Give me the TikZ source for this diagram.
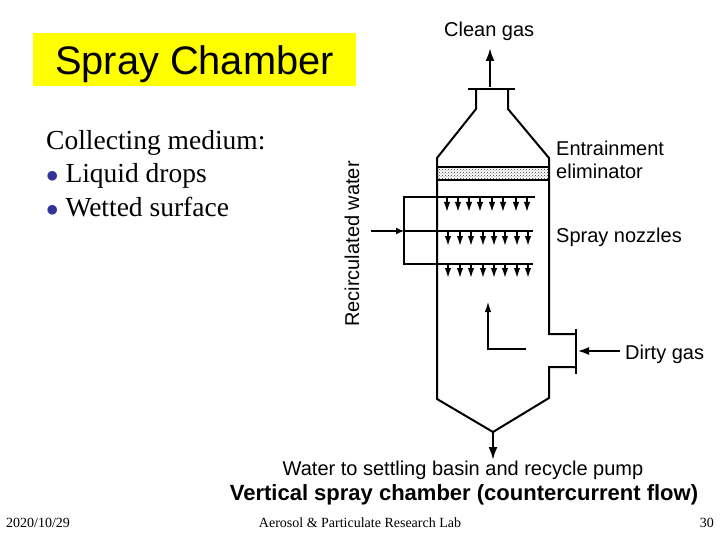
\documentclass[tikz,border=0pt]{standalone}
\usepackage{fontspec}
\setmainfont{Liberation Serif}
\newfontfamily\arialfont{Liberation Sans}
\usepackage{tikz}
\usetikzlibrary{arrows.meta,patterns}
\definecolor{titleyellow}{RGB}{255,255,0}
\definecolor{bulletblue}{RGB}{51,51,153}

\begin{document}
\begin{tikzpicture}[
  x=1pt, y=-1pt,
  wall/.style={line width=2pt, line join=miter},
  pipe/.style={line width=2pt},
  flow/.style={line width=2.2pt, -{Latex[length=13pt,width=9pt]}},
  nozzle/.style={line width=1.6pt, -{Latex[length=10pt,width=6.5pt]}},
  label/.style={font=\arialfont\fontsize{20}{24}\selectfont, inner sep=0pt, anchor=base west, align=left},
  body/.style={font=\fontsize{27.5}{33}\selectfont, inner sep=0pt, anchor=base west},
  foot/.style={font=\fontsize{14}{17}\selectfont, inner sep=0pt, anchor=base}
]
\useasboundingbox (0,0) rectangle (720,540);
\fill[white] (0,0) rectangle (720,540);

% title and left text
\node[fill=titleyellow, minimum width=323pt, minimum height=53pt, inner sep=0pt] (title) at (194.5,59.5) {};
\node[font=\arialfont\fontsize{39.8}{45}\selectfont, inner sep=0pt] at (194.5,64) {Spray Chamber};
\node[body] (collect) at (46,150) {Collecting medium:};
\node[body] (drops) at (46,183) {\textcolor{bulletblue}{$\bullet$} Liquid drops};
\node[body] (wetted) at (46,216) {\textcolor{bulletblue}{$\bullet$} Wetted surface};

% chamber outline
\coordinate (flangeL) at (468,89);
\coordinate (flangeR) at (515,89);
\draw[wall] (476,89) -- (476,109) -- (437,158) -- (437,399) -- (493,432) -- (549,398) -- (549,367) -- (575,367);
\draw[wall] (508,89) -- (508,109) -- (549,158) -- (549,334) -- (575,334);
\draw[wall] (flangeL) -- (flangeR);
\draw[line width=1.5pt] (576,329) -- (576,374);

% entrainment eliminator
\draw[pipe, pattern=crosshatch dots, pattern color=black!80] (437,167) rectangle (549,180);

% spray headers
\coordinate (hdrT) at (404,197);
\coordinate (hdrM) at (404,231);
\coordinate (hdrB) at (404,264);
\coordinate (waterIn) at (371,231);
\draw[pipe] (535,197) -- (hdrT) -- (hdrB) -- (533,264);
\draw[pipe] (hdrM) -- (533,231);
\draw[line width=1.2pt, -{Latex[length=8pt,width=7pt]}] (waterIn) -- (hdrM);
\foreach \x in {447,458,469,480,492,503,516,527}
  \draw[nozzle] (\x,197) -- (\x,212);
\foreach \x in {448,460,471,483,494,505,517,528} {
  \draw[nozzle] (\x,231) -- (\x,246);
  \draw[nozzle] (\x,264) -- (\x,278);
}

% gas and water flow
\coordinate (cleanS) at (490,87);
\coordinate (cleanE) at (490,48);
\coordinate (gasA) at (526,349);
\coordinate (gasB) at (488,349);
\coordinate (gasC) at (488,302);
\coordinate (dirtyS) at (620,351);
\coordinate (dirtyE) at (578,351);
\coordinate (drainS) at (493,432);
\coordinate (drainE) at (493,460);
\draw[flow] (cleanS) -- (cleanE);
\draw[line width=1.2pt, -{Latex[length=10pt,width=6.5pt]}] (gasA) -- (gasB) -- (gasC);
\draw[line width=1.5pt, -{Latex[length=11pt,width=8pt]}] (dirtyS) -- (dirtyE);
\draw[flow] (drainS) -- (drainE);

% labels
\node[label] (clean) at (444,37) {Clean gas};
\node[label] (entrain) at (556,156) {Entrainment};
\node[label] (elim) at (556,179) {eliminator};
\node[label] (spray) at (556,242) {Spray nozzles};
\node[label] (dirty) at (625,359) {Dirty gas};
\node[label, rotate=90] (recirc) at (359,327) {Recirculated water};
\node[font=\arialfont\fontsize{20}{24}\selectfont, inner sep=0pt, anchor=base] (basin) at (463,475) {Water to settling basin and recycle pump};
\node[font=\arialfont\bfseries\fontsize{22}{26}\selectfont, inner sep=0pt, anchor=base] (caption) at (464,500) {Vertical spray chamber (countercurrent flow)};

% footer
\node[foot, anchor=base west] (date) at (6,527) {2020/10/29};
\node[foot] (lab) at (360,527) {Aerosol \& Particulate Research Lab};
\node[foot, anchor=base east] (page) at (714,527) {30};
\end{tikzpicture}
\end{document}
